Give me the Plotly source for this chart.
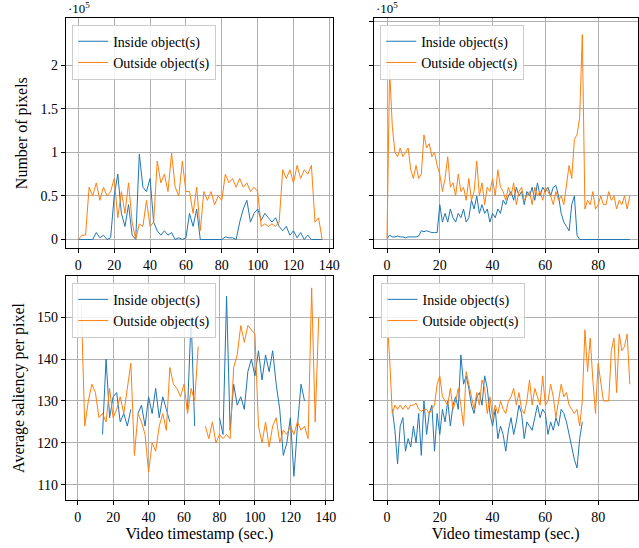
import plotly.graph_objects as go

BLUE = "#1f77b4"
ORANGE = "#ff7f0e"

# top-left: number of pixels (x 1e5), sampled every 2 s
t_long = list(range(0, 137, 2))
tl_inside = [0, 0, 0, 0, 0, 0.08, 0.02, 0.05, 0.0, 0.02, 0.5, 0.75, 0.3, 0.15, 0.4, 0.05, 0.0,
             0.98, 0.6, 0.55, 0.7, 0.2, 0.1, 0.05, 0.1, 0.05, 0.08, 0.0, 0.02, 0.0, 0.02, 0.3,
             0.15, 0.35, 0.0, 0.0, 0.0, 0.0, 0.0, 0.0, 0.0, 0.03, 0.02, 0.02, 0.0, 0.2, 0.35,
             0.45, 0.2, 0.3, 0.35, 0.22, 0.3, 0.25, 0.2, 0.25, 0.15, 0.1, 0.15, 0.05, 0.1, 0.02,
             0.08, 0.0, 0.05, 0.0, 0, 0, 0]
tl_outside = [0.0, 0.05, 0.05, 0.6, 0.5, 0.65, 0.45, 0.6, 0.5, 0.55, 0.7, 0.25, 0.55, 0.3, 0.65,
              0.2, 0.0, 0.18, 0.15, 0.45, 0.15, 0.2, 0.9, 0.65, 0.75, 0.55, 0.99, 0.6, 0.5, 0.9,
              0.55, 0.55, 0.3, 0.6, 0.1, 0.55, 0.45, 0.55, 0.4, 0.5, 0.45, 0.75, 0.65, 0.7, 0.6,
              0.7, 0.6, 0.65, 0.55, 0.6, 0.55, 0.15, 0.18, 0.15, 0.18, 0.15, 0.2, 0.8, 0.7, 0.8,
              0.65, 0.85, 0.7, 0.8, 0.75, 0.85, 0.2, 0.25, 0.0]

# top-right: number of pixels (x 1e5), every 1 s
t_short = list(range(0, 93))
tr_inside = [0.01, 0.05, 0.03, 0.03, 0.04, 0.03, 0.03, 0.02, 0.03, 0.03, 0.03, 0.03, 0.04, 0.1,
             0.09, 0.1, 0.09, 0.08, 0.08, 0.08, 0.4, 0.2, 0.3, 0.2, 0.35, 0.25, 0.2, 0.3, 0.25,
             0.35, 0.2, 0.25, 0.45, 0.35, 0.5, 0.3, 0.4, 0.3, 0.35, 0.2, 0.3, 0.25, 0.35, 0.3,
             0.45, 0.4, 0.5, 0.55, 0.45, 0.6, 0.5, 0.55, 0.4, 0.55, 0.5, 0.6, 0.45, 0.65, 0.5,
             0.6, 0.55, 0.6, 0.5, 0.6, 0.62, 0.5, 0.3, 0.2, 0.15, 0.1, 0.4, 0.5, 0.05, 0.0, 0, 0,
             0, 0, 0, 0, 0, 0, 0, 0, 0, 0, 0, 0, 0, 0, 0, 0, 0]
tr_outside = [0.02, 1.95, 1.3, 1.0, 0.95, 1.05, 0.95, 1.0, 1.05, 0.8, 0.7, 0.85, 0.7, 0.75, 1.2,
              1.05, 1.1, 0.95, 1.0, 0.85, 0.75, 0.55, 0.7, 0.95, 0.6, 0.65, 0.5, 0.75, 0.55, 0.6,
              0.45, 0.7, 0.45, 0.55, 0.9, 0.5, 0.65, 0.4, 0.6, 0.55, 0.7, 0.5, 0.8, 0.6, 0.55,
              0.45, 0.6, 0.5, 0.65, 0.4, 0.55, 0.6, 0.45, 0.5, 0.55, 0.4, 0.6, 0.5, 0.55, 0.45,
              0.6, 0.55, 0.5, 0.4, 0.55, 0.45, 0.5, 0.4, 0.6, 0.85, 0.7, 1.15, 1.2, 1.4, 2.35,
              0.35, 0.45, 0.4, 0.55, 0.35, 0.4, 0.5, 0.4, 0.4, 0.55, 0.45, 0.5, 0.35, 0.45, 0.4,
              0.5, 0.35, 0.5]

# bottom-left: average saliency, every 2 s (None = no data)
bl_inside = [None, None, None, None, None, None, None, 122, 140, 126, 131, 132, 125, 127, 124,
             128, None, 127, 129, 124, 131, 127, 133, 126, 131, 128, 125, None, None, None, None,
             128, 150, 124, None, None, None, None, None, None, 126, 122, 155, 123, 134, 129,
             131, 128, 137, 140, 136, 142, 135, 141, 137, 142, 134, 128, 117, 120, 126, 112,
             124, 134, 130, None, None, None, None]
bl_outside = [None, 153, 124, 130, 134, 132, 126, 127, 125, 133, 126, 128, 131, 127, 133, 139,
              117, 127, 125, 122, 113, 120, 118, 124, 127, 123, 138, 134, 133, 131, 134, 127,
              133, 130, 143, None, 124, 121, 125, 120, 122, 121, 122, 121, 138, 141, 148, 144,
              148, 147, 146, 124, 120, 125, 119, 124, 126, 120, 123, 122, 124, 122, 125, 123,
              124, 121, 157, 125, 150]

# bottom-right: average saliency, every 1 s
br_inside = [None, None, 128, 123, 115, 124, 126, 118, 121, 119, 124, 120, 127, 117, 130, 122,
             127, 129, 118, 127, 122, 128, 125, 130, 124, 129, 131, 128, 141, 134, 136, 133, 129,
             127, 131, 132, 129, 136, 133, 127, 124, 128, 121, 124, 122, 118, 123, 126, 122, 125,
             129, 127, 121, 125, 124, 123, 126, 129, 126, 128, 127, 122, 125, 123, 126, 124, 128,
             127, 125, 122, 119, 116, 114, 121, 125] + [None] * 18
br_outside = [150, 140, 127, 129, 128, 129, 128, 129, 128, 129, 129, 129.5, 128, 127.5, 128, 128,
              127, 128, 129, 134, 136, 131, 130, 129, 133, 128, 130, 133, 129, 124, 137, 134, 131,
              128, 132, 129, 135, 133, 127, 131, 126, 129, 127, 130, 128, 127, 130, 131, 133, 129,
              132, 128, 127, 130, 135, 129, 133, 131, 129, 136, 129, 130, 134, 131, 126, 130, 134,
              131, 132, 129, 128, 127, 128, 124, 130, 147, 137, 145, 135, 127, 139, 135, 130, 130,
              130, 142, 145, 132, 146, 142, 143, 146, 134]

FONT = "Liberation Serif, Times New Roman, serif"

fig = go.Figure()
panels = [
    ("x", "y", t_long, tl_inside, tl_outside, "legend"),
    ("x2", "y2", t_short, tr_inside, tr_outside, "legend2"),
    ("x3", "y3", t_long, bl_inside, bl_outside, "legend3"),
    ("x4", "y4", t_short, br_inside, br_outside, "legend4"),
]
for xa, ya, t, ins, outs, leg in panels:
    fig.add_scatter(x=t, y=ins, xaxis=xa, yaxis=ya, mode="lines", name="Inside object(s)",
                    line=dict(color=BLUE, width=1), legend=leg)
    fig.add_scatter(x=t, y=outs, xaxis=xa, yaxis=ya, mode="lines", name="Outside object(s)",
                    line=dict(color=ORANGE, width=1), legend=leg)

ax = dict(showline=True, mirror=True, linecolor="black", linewidth=1, showgrid=True,
          gridcolor="#b0b0b0", gridwidth=1, zeroline=False, ticks="outside", ticklen=4,
          tickcolor="black", tickfont=dict(size=14), automargin=False)
left = [0.103, 0.521]
right = [0.585, 0.998]
top = [0.547, 0.967]
bot = [0.088, 0.496]

xtitle = dict(text="Video timestamp (sec.)", font=dict(size=16), standoff=4)
fig.update_layout(
    width=639, height=548, margin=dict(l=0, r=0, t=0, b=0, autoexpand=False),
    plot_bgcolor="white", paper_bgcolor="white",
    font=dict(family=FONT, color="black"),
    xaxis=dict(ax, domain=left, anchor="y", range=[-7, 142], dtick=20),
    yaxis=dict(ax, domain=top, anchor="x", range=[-0.1, 2.54], dtick=0.5,
               tickvals=[0, 0.5, 1, 1.5, 2], ticktext=["0", "0.5", "1", "1.5", "2"],
               title=dict(text="Number of pixels", font=dict(size=16), standoff=8)),
    xaxis2=dict(ax, domain=right, anchor="y2", range=[-5, 95], dtick=20),
    yaxis2=dict(ax, domain=top, anchor="x2", range=[-0.1, 2.54], dtick=0.5,
                showticklabels=False),
    xaxis3=dict(ax, domain=left, anchor="y3", range=[-6.7, 144], dtick=20, title=xtitle),
    yaxis3=dict(ax, domain=bot, anchor="x3", range=[106.4, 159.8], dtick=10,
                title=dict(text="Average saliency per pixel", font=dict(size=16), standoff=8)),
    xaxis4=dict(ax, domain=right, anchor="y4", range=[-5, 95], dtick=20, title=xtitle),
    yaxis4=dict(ax, domain=bot, anchor="x4", range=[106.4, 159.8], dtick=10,
                showticklabels=False),
)

legstyle = dict(bgcolor="rgba(255,255,255,0.85)", bordercolor="#cccccc", borderwidth=1,
                font=dict(size=14), xanchor="left", yanchor="top", tracegroupgap=0,
                itemwidth=30)
fig.update_layout(
    legend=dict(legstyle, x=0.113, y=0.955),
    legend2=dict(legstyle, x=0.595, y=0.955),
    legend3=dict(legstyle, x=0.113, y=0.484),
    legend4=dict(legstyle, x=0.597, y=0.484),
)

for xpos in [0.103, 0.585]:
    fig.add_annotation(text="·10<sup>5</sup>", xref="paper", yref="paper", x=xpos, y=0.968,
                       xanchor="left", yanchor="bottom", showarrow=False,
                       font=dict(size=13))

fig.write_html("out.html", config={"displayModeBar": False},
               post_script="document.body.style.margin='0';")
